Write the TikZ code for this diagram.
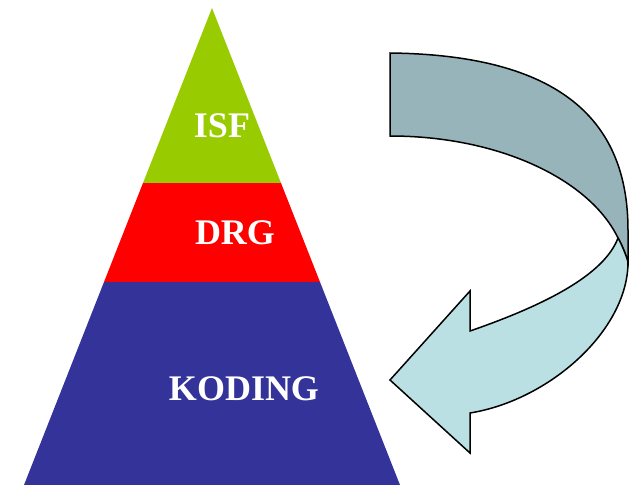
\documentclass[tikz,border=0pt]{standalone}
\usepackage{fontspec}
\setmainfont{Liberation Serif}
\definecolor{isfgreen}{RGB}{153,204,0}
\definecolor{drgred}{RGB}{255,0,0}
\definecolor{kodblue}{RGB}{51,51,153}
\definecolor{bandback}{RGB}{150,180,185}
\definecolor{bandfront}{RGB}{187,224,227}
\tikzset{layerlabel/.style={text=white,font=\fontsize{36}{40}\selectfont\bfseries}}
\begin{document}
\begin{tikzpicture}[x=1pt,y=-1pt]
\useasboundingbox (0,0) rectangle (630,485);
\fill[isfgreen] (212,8)--(281,183)--(143,183)--cycle;
\fill[drgred] (143,183)--(281,183)--(320,282)--(104,282)--cycle;
\fill[kodblue] (104,282)--(320,282)--(400,485)--(24,485)--cycle;
\node[layerlabel] (isf) at (222,126) {ISF};
\node[layerlabel] (drg) at (235,233) {DRG};
\node[layerlabel] (koding) at (244,389) {KODING};
\draw[line width=1.5pt,fill=bandback] (390,53) .. controls (560,55) and (628,120) .. (628,230)--(628,262) .. controls (626,255) and (622,245) .. (618,238) .. controls (590,180) and (500,136) .. (390,136)--cycle;
\draw[line width=1.5pt,fill=bandfront] (618,238) .. controls (622,245) and (626,255) .. (628,262) .. controls (628,330) and (550,400) .. (470,413)--(470,453)--(390,380)--(470,291)--(470,331) .. controls (545,305) and (604,275) .. (618,238)--cycle;
\end{tikzpicture}
\end{document}
